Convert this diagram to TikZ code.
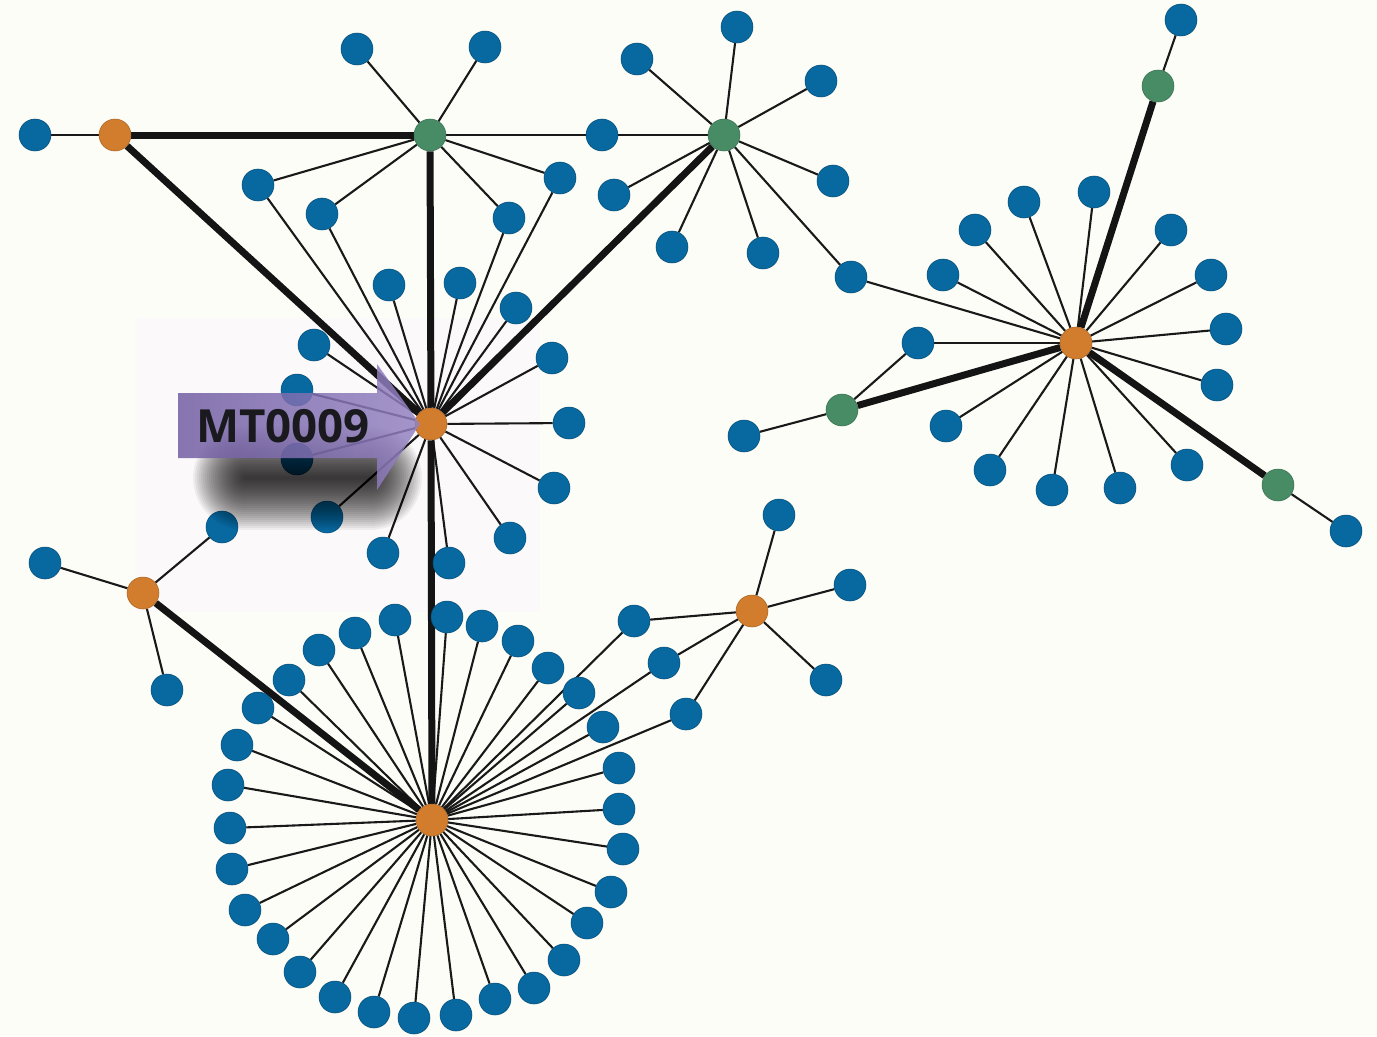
\documentclass[tikz,border=0pt]{standalone}
\usepackage{fontspec}
\setsansfont{Open Sans}
\definecolor{nblue}{RGB}{8,104,160}
\definecolor{norange}{RGB}{210,125,45}
\definecolor{ngreen}{RGB}{72,140,102}
\definecolor{bgc}{RGB}{253,253,248}
\definecolor{hlc}{RGB}{251,249,250}
\definecolor{arL}{RGB}{112,92,162}
\definecolor{arR}{RGB}{148,130,194}
\definecolor{txt}{RGB}{25,25,30}
\pgfdeclarelayer{back}
\pgfdeclarelayer{edges}
\pgfsetlayers{back,edges,main}
\tikzset{
  leaf/.style={circle, fill=nblue, draw=nblue!75!black, line width=0.3pt, minimum size=0.64cm, inner sep=0pt},
  hubO/.style={leaf, fill=norange, draw=norange!80!black},
  hubG/.style={leaf, fill=ngreen, draw=ngreen!80!black},
  thinE/.style={draw=black!90, line width=0.042cm},
  thickE/.style={draw=black!92, line width=0.14cm},
}
\begin{document}
\begin{tikzpicture}[x=0.02cm,y=-0.02cm]
\begin{pgfonlayer}{back}
\fill[bgc] (0,0) rectangle (1377,1036);
\fill[hlc] (135,318) rectangle (540,612);
\end{pgfonlayer}
\useasboundingbox (0,0) rectangle (1377,1036);
% hubs
\node[hubO] (M) at (431,424) {};
\node[hubG] (G1) at (430,135) {};
\node[hubO] (O1) at (115,135) {};
\node[hubG] (G2) at (724,135) {};
\node[hubO] (O2) at (1076,343) {};
\node[hubG] (G3) at (1158,86) {};
\node[hubG] (G4) at (842,410) {};
\node[hubG] (G5) at (1278,485) {};
\node[hubO] (O3) at (143,593) {};
\node[hubO] (O4) at (432,820) {};
\node[hubO] (O5) at (752,611) {};
% leaves
\foreach \n/\x/\y in {
 m1/389/285, m2/460/283, m3/516/308, m4/314/345, m5/297/390, m6/552/358,
 m7/569/423, m8/554/488, m9/510/538, m10/449/563, m11/383/553, m12/327/517, m13/297/459,
 s1/258/185, s2/322/214, s3/509/218, s4/560/178, s5/602/135, s6/851/277, s7/918/343,
 g1a/357/49, g1b/485/47,
 g2a/737/27, g2b/637/59, g2c/821/81, g2d/833/181, g2e/614/195, g2f/672/247, g2g/763/253,
 o1a/35/135,
 r1/1094/192, r2/1024/202, r3/975/230, r4/943/275, r5/1171/230, r6/1211/275, r7/1226/329,
 r8/1217/385, r9/1187/465, r10/1120/488, r11/1052/490, r12/990/470, r13/946/426,
 g4a/744/436, g3a/1181/20, g5a/1346/531,
 o3a/45/563, o3b/222/527, o3c/167/690,
 o5a/779/515, o5b/850/585, o5c/826/680,
 t1/634/621, t2/664/663, t3/686/714,
 c1/447/617, c2/482/626, c3/518/641, c4/548/668, c5/579/693, c6/603/727, c7/619/768,
 c8/619/809, c9/623/849, c10/611/892, c11/587/923, c12/564/960, c13/534/988, c14/495/999,
 c15/456/1015, c16/414/1018, c17/374/1012, c18/335/997, c19/300/972, c20/273/939,
 c21/245/910, c22/232/869, c23/230/828, c24/228/785, c25/237/745, c26/258/708,
 c27/289/680, c28/319/650, c29/355/633, c30/395/620}
 \node[leaf] (\n) at (\x,\y) {};
% edges
\begin{pgfonlayer}{edges}
\foreach \a/\b in {
 M/m1, M/m2, M/m3, M/m4, M/m5, M/m6, M/m7, M/m8, M/m9, M/m10, M/m11, M/m12, M/m13,
 M/s1, M/s2, M/s3, M/s4,
 G1/g1a, G1/g1b, G1/s1, G1/s2, G1/s3, G1/s4, G1/s5,
 G2/s5, G2/g2a, G2/g2b, G2/g2c, G2/g2d, G2/g2e, G2/g2f, G2/g2g, G2/s6,
 O2/s6, O2/r1, O2/r2, O2/r3, O2/r4, O2/r5, O2/r6, O2/r7, O2/r8, O2/r9, O2/r10, O2/r11, O2/r12, O2/r13, O2/s7,
 G4/s7, G4/g4a, G3/g3a, G5/g5a, O1/o1a, O3/o3a, O3/o3b, O3/o3c,
 O5/o5a, O5/o5b, O5/o5c, O5/t1, O5/t2, O5/t3, O4/t1, O4/t2, O4/t3}
 \draw[thinE] (\a) -- (\b);
\foreach \i in {1,...,30} \draw[thinE] (O4) -- (c\i);
\foreach \a/\b in {O1/G1, O1/M, G1/M, G2/M, M/O4, O3/O4, O2/G3, O2/G4, O2/G5}
 \draw[thickE] (\a) -- (\b);
\end{pgfonlayer}
% soft drop shadow of the arrow
\coordinate (shA) at (245,478);
\coordinate (shB) at (370,478);
\foreach \w in {104,100,...,4}
 \draw[black, opacity=0.05, line width=\w*0.02cm, line cap=round] (shA) -- (shB);
% arrow
\shade[left color=arL, right color=arR, fill opacity=0.84]
 (178,393) -- (377,393) -- (377,364) -- (420,424) -- (377,490) -- (377,458) -- (178,458) -- cycle;
\node[text=txt, font=\sffamily\bfseries\fontsize{26}{26}\selectfont, inner sep=0pt] (lbl) at (283,426) {MT0009};
\end{tikzpicture}
\end{document}
